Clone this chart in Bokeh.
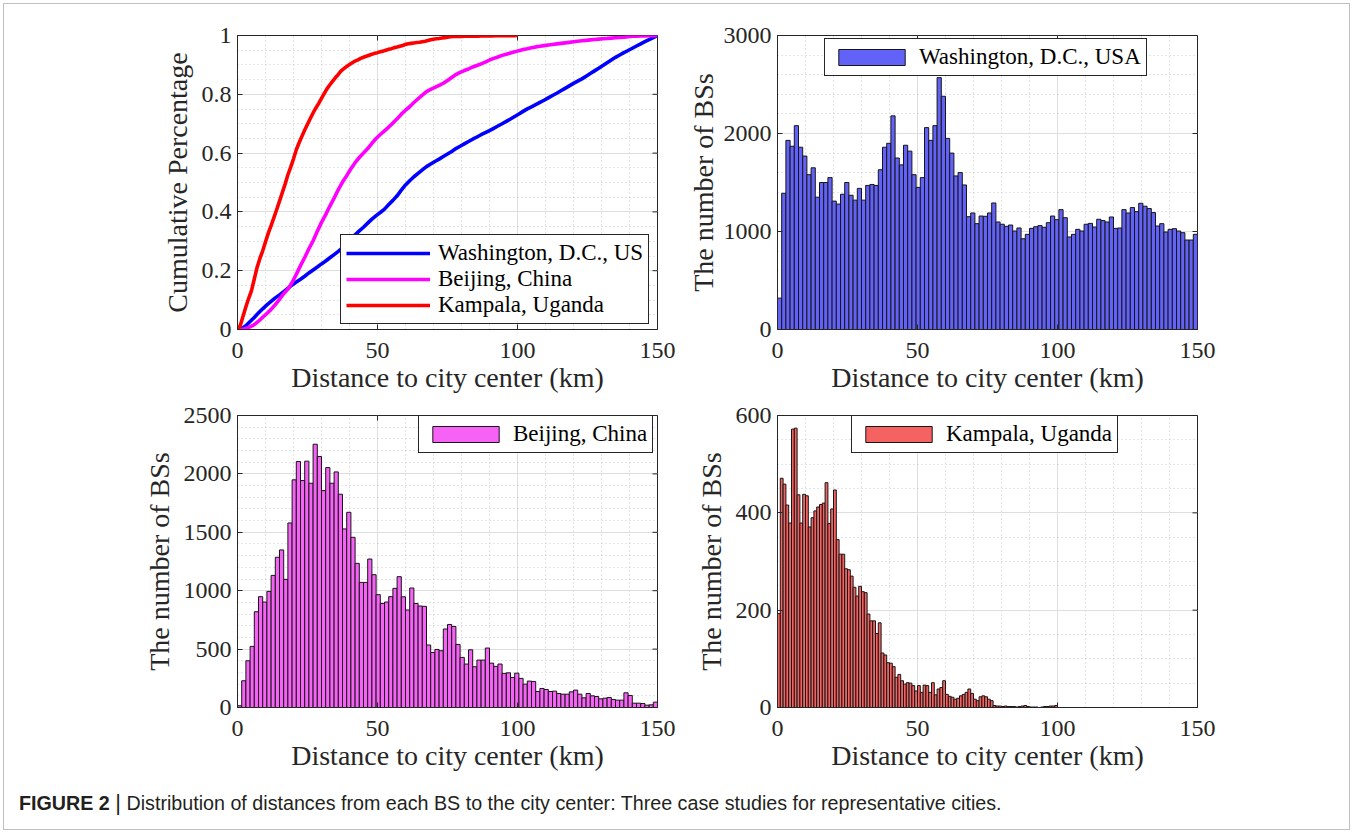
import numpy as np
from bokeh.plotting import figure
from bokeh.models import Range1d, SingleIntervalTicker, Div, CustomJSTickFormatter
from bokeh.layouts import column, row
from bokeh.embed import file_html
from bokeh.resources import INLINE

# ---------------- data ----------------
x_label = "Distance to city center (km)"
y_label_cdf = "Cumulative Percentage"
y_label_hist = "The number of BSs"
cdf_names = ["Washington, D.C., US", "Beijing, China", "Kampala, Uganda"]
hist_names = ["Washington, D.C., USA", "Beijing, China", "Kampala, Uganda"]
bin_width_km = [1.5, 1.5, 1.0]
caption_bold = "FIGURE 2"
caption_text = ("Distribution of distances from each BS to the city center: "
                "Three case studies for representative cities.")

washington_counts = [
    320, 1390, 1930, 1870, 2080, 1860, 1770, 1580, 1650, 1350,
    1500, 1500, 1550, 1310, 1280, 1380, 1500, 1370, 1320, 1440,
    1320, 1470, 1480, 1470, 1630, 1860, 1900, 2180, 1750, 1680,
    1880, 1820, 1580, 1450, 1550, 2060, 1930, 2080, 2570, 2380,
    1950, 1800, 1567, 1601, 1475, 1151, 1189, 1080, 1158, 1155,
    1189, 1291, 1097, 1074, 1053, 1066, 1005, 1036, 926, 971,
    1032, 1049, 1060, 1043, 1090, 1158, 1121, 1223, 1141, 944,
    971, 1022, 1005, 1074, 1083, 1046, 1125, 1111, 1097, 1148,
    1032, 1036, 1223, 1189, 1244, 1203, 1288, 1258, 1234, 1193,
    1056, 1080, 995, 1022, 1029, 1005, 988, 913, 913, 971]

beijing_counts = [
    15, 229, 400, 523, 820, 949, 903, 994, 1131, 1286,
    1349, 1097, 1580, 1949, 2106, 1943, 2109, 1920, 2254, 2149,
    1857, 2054, 1920, 2017, 1826, 1529, 1671, 1457, 1234, 1071,
    1071, 1271, 1137, 966, 891, 903, 949, 1020, 1120, 948,
    835, 1023, 891, 869, 866, 535, 471, 497, 486, 672,
    711, 694, 540, 429, 372, 494, 349, 406, 406, 509,
    380, 352, 372, 292, 297, 257, 294, 249, 200, 226,
    223, 137, 163, 154, 137, 140, 120, 114, 114, 134,
    149, 114, 83, 120, 100, 94, 74, 80, 86, 69,
    63, 63, 126, 103, 37, 37, 34, 20, 23, 46]

kampala_counts = [
    193, 471, 459, 416, 379, 572, 574, 437, 379, 438,
    435, 371, 390, 404, 412, 417, 420, 462, 378, 408,
    447, 345, 315, 315, 285, 283, 270, 247, 229, 249,
    238, 236, 192, 178, 178, 152, 174, 112, 108, 92,
    91, 84, 62, 68, 55, 48, 51, 50, 45, 34,
    45, 31, 46, 45, 31, 51, 26, 38, 41, 55,
    27, 23, 21, 17, 19, 24, 27, 31, 38, 29,
    17, 14, 22, 24, 22, 17, 14, 4, 3, 3,
    2, 3, 2, 2, 2, 1, 2, 3, 4, 2,
    1, 1, 1, 0, 1, 2, 2, 3, 3, 4]

all_counts = [washington_counts, beijing_counts, kampala_counts]
line_colors = ["#0000ff", "#ff00ff", "#ff0000"]
bar_colors = ["#6262f8", "#f562f5", "#f56262"]

# ---------------- styling ----------------
AX = "#262626"
SERIF = "Liberation Serif"
X_MAX = 150
X_STEP = 50


def base_fig(w, h, bl, br, bt, bb, ymax, yint, yminor, ylabel, ylab_so):
    p = figure(width=w, height=h, x_range=Range1d(0, X_MAX), y_range=Range1d(0, ymax),
               output_backend="svg", toolbar_location=None,
               min_border_left=bl, min_border_right=br,
               min_border_top=bt, min_border_bottom=bb,
               x_axis_label=x_label, y_axis_label=ylabel)
    p.outline_line_color = AX
    p.outline_line_width = 1
    p.outline_line_alpha = 1
    xt = SingleIntervalTicker(interval=X_STEP, num_minor_ticks=5)
    yt = SingleIntervalTicker(interval=yint, num_minor_ticks=yminor)
    p.xaxis[0].ticker = xt
    p.yaxis[0].ticker = yt
    p.xgrid[0].ticker = xt
    p.ygrid[0].ticker = yt
    for g in (p.xgrid[0], p.ygrid[0]):
        g.grid_line_color = "#dedede"
        g.grid_line_width = 1
        g.minor_grid_line_color = "#c8c8c8"
        g.minor_grid_line_dash = "1 3"
        g.minor_grid_line_width = 1
    for ax in (p.xaxis[0], p.yaxis[0]):
        ax.axis_line_color = AX
        ax.major_tick_in = 5
        ax.major_tick_out = 0
        ax.minor_tick_in = 0
        ax.minor_tick_out = 0
        ax.major_tick_line_color = AX
        ax.major_label_text_font = SERIF
        ax.major_label_text_font_size = "24px"
        ax.major_label_text_color = AX
        ax.axis_label_text_font = SERIF
        ax.axis_label_text_font_size = "28px"
        ax.axis_label_text_font_style = "normal"
        ax.axis_label_text_color = AX
    p.xaxis[0].major_label_standoff = 13
    p.xaxis[0].axis_label_standoff = 1
    p.yaxis[0].major_label_standoff = 6
    p.yaxis[0].axis_label_standoff = ylab_so
    # inward tick marks on the right and top edges of the box
    yt_vals = np.arange(0, ymax + yint / 2, yint)
    xt_vals = np.arange(0, X_MAX + X_STEP / 2, X_STEP)
    p.ray(x=[X_MAX] * len(yt_vals), y=yt_vals, length=5, angle=np.pi,
          length_units="screen", line_color=AX, line_width=1)
    p.ray(x=xt_vals, y=[ymax] * len(xt_vals), length=5, angle=-np.pi / 2,
          length_units="screen", line_color=AX, line_width=1)
    return p


def style_legend(p, loc, glyph_w, standoff):
    lg = p.legend[0]
    lg.location = loc
    lg.margin = 0
    lg.padding = 5
    lg.spacing = 0
    lg.glyph_width = glyph_w
    lg.glyph_height = 20
    lg.label_standoff = standoff
    lg.label_text_font = SERIF
    lg.label_text_font_size = "23px"
    lg.label_text_color = "black"
    lg.border_line_color = AX
    lg.border_line_width = 1
    lg.border_line_alpha = 1
    lg.background_fill_color = "white"
    lg.background_fill_alpha = 1


def cdf_of(counts, bw):
    c = np.asarray(counts, dtype=float)
    edges = np.arange(len(c) + 1) * bw
    y = np.concatenate([[0.0], np.cumsum(c)]) / c.sum()
    return edges, y


# ---- top-left: cumulative curves ----
p1 = base_fig(673, 395, 233, 20, 31, 70, 1, 0.2, 4, y_label_cdf, 6)
p1.yaxis[0].formatter = CustomJSTickFormatter(code="return String(Number(tick.toFixed(2)));")
for counts, bw, col, name in zip(all_counts, bin_width_km, line_colors, cdf_names):
    xs, ys = cdf_of(counts, bw)
    p1.line(xs, ys, line_color=col, line_width=3.6, line_join="round", legend_label=name)
style_legend(p1, (103, 5), 84, 8)


def hist_fig(w, h, bl, br, bt, bb, ymax, yint, yminor, counts, bw, col, name, loc, ylab_so):
    p = base_fig(w, h, bl, br, bt, bb, ymax, yint, yminor, y_label_hist, ylab_so)
    edges = np.arange(len(counts) + 1) * bw
    p.quad(left=edges[:-1], right=edges[1:], bottom=0, top=counts,
           fill_color=col, line_color="#161616", line_width=1, legend_label=name)
    style_legend(p, loc, 83, 6)
    return p


p2 = hist_fig(550, 395, 100, 30, 31, 70, 3000, 1000, 5, washington_counts,
              bin_width_km[0], bar_colors[0], hist_names[0], (47, 253), 2)
p3 = hist_fig(673, 381, 233, 20, 16, 73, 2500, 500, 5, beijing_counts,
              bin_width_km[1], bar_colors[1], hist_names[1], (181, 254), 6)
p4 = hist_fig(550, 381, 100, 30, 16, 73, 600, 200, 4, kampala_counts,
              bin_width_km[2], bar_colors[2], hist_names[2], (74, 254), 6)

cap_html = ('<div style="font-family:\'Liberation Sans\',Arial,sans-serif;'
            'font-size:19.7px;color:#231f20;padding:2px 0 0 10px;white-space:nowrap;">'
            '<b>' + caption_bold + '</b> <span style="font-size:22px;">|</span> '
            + caption_text + '</div>')
cap = Div(text=cap_html, width=1347, height=51)

root = column(row(p1, p2), row(p3, p4), cap, width=1347, height=827,
              margin=(3, 0, 0, 3),
              styles={"border": "1px solid #c0c0c0"})

open("out.html", "w").write(file_html(root, INLINE, "Figure 2"))
